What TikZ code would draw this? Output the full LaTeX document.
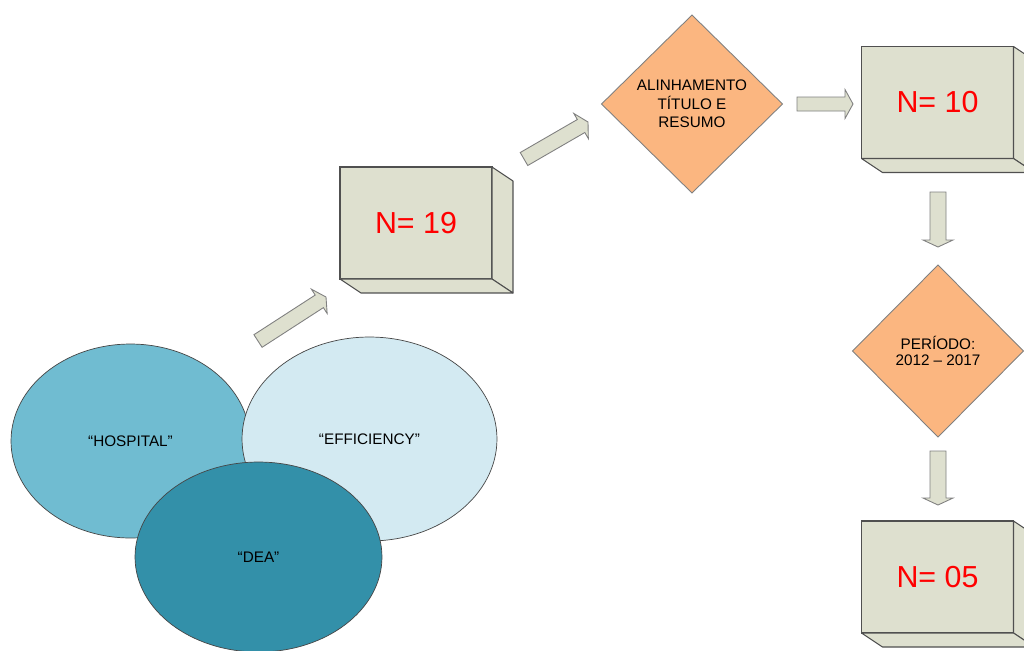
\documentclass[tikz,border=0pt]{standalone}
\usepackage{fontspec}
\setmainfont{Liberation Sans}
\usetikzlibrary{shapes.geometric,calc}
\definecolor{boxfill}{RGB}{222,224,207}
\definecolor{boxline}{RGB}{80,80,80}
\definecolor{diafill}{RGB}{251,182,128}
\definecolor{hospc}{RGB}{112,188,209}
\definecolor{effic}{RGB}{211,234,242}
\definecolor{deac}{RGB}{51,144,169}
\definecolor{ellline}{RGB}{70,70,70}
\newcommand\blockarrow[6]{%
  \coordinate (#1q) at ($(#3)!#6!(#2)$);
  \draw[barrow] ($(#2)!#4!90:(#3)$) -- ($(#1q)!#4!90:(#3)$) -- ($(#1q)!#5!90:(#3)$) -- (#3)
    -- ($(#1q)!#5!-90:(#3)$) -- ($(#1q)!#4!-90:(#3)$) -- ($(#2)!#4!-90:(#3)$) -- cycle;}
\begin{document}
\begin{tikzpicture}[x=0.02cm,y=-0.02cm,
  cube/.style={draw=boxline, fill=boxfill, line width=0.6pt, minimum width=3.04cm, minimum height=2.24cm,
    inner sep=0pt, outer sep=0pt, text=red, font=\fontsize{17.3}{20}\selectfont},
  face/.style={draw=boxline, fill=boxfill, line width=0.6pt, line join=round},
  dia/.style={diamond, draw=gray, fill=diafill, line width=0.5pt, inner sep=0pt, outer sep=0pt, align=center,
    font=\fontsize{8.7}{10.4}\selectfont},
  ell/.style={ellipse, draw=ellline, line width=0.4pt, inner sep=0pt, font=\fontsize{8.7}{10.4}\selectfont},
  barrow/.style={draw=gray, fill=boxfill, line width=0.5pt, line join=miter}
]
\useasboundingbox (0,0) rectangle (1024,650);
\clip (0,0) rectangle (1024,650);
\fill[white] (0,0) rectangle (1024,650);

% ellipses
\node[ell, fill=hospc, minimum width=4.78cm, minimum height=3.88cm] (hosp) at (130.5,441) {“HOSPITAL”};
\node[ell, fill=effic, minimum width=5.10cm, minimum height=4.08cm] (effi) at (369.5,439) {“EFFICIENCY”};
\node[ell, fill=deac, minimum width=4.94cm, minimum height=3.80cm] (dea) at (258.5,557) {“DEA”};

% cubes
\node[cube] (n19) at (416,223) {N= 19};
\draw[face] (n19.north east) -- ++(21,14) -- ++(0,112) -- (n19.south east) -- cycle;
\draw[face] (n19.south west) -- ++(21,14) -- ++(152,0) -- (n19.south east) -- cycle;

\node[cube] (n10) at (937.5,102.5) {N= 10};
\draw[face] (n10.north east) -- ++(21,14) -- ++(0,112) -- (n10.south east) -- cycle;
\draw[face] (n10.south west) -- ++(21,14) -- ++(152,0) -- (n10.south east) -- cycle;

\node[cube] (n05) at (937.5,577) {N= 05};
\draw[face] (n05.north east) -- ++(21,14) -- ++(0,112) -- (n05.south east) -- cycle;
\draw[face] (n05.south west) -- ++(21,14) -- ++(152,0) -- (n05.south east) -- cycle;

% diamonds
\node[dia, minimum width=3.62cm, minimum height=3.56cm] (alin) at (692,104) {ALINHAMENTO\\TÍTULO E\\RESUMO};
\node[dia, minimum width=3.42cm, minimum height=3.44cm, font=\fontsize{8.7}{9.1}\selectfont] (per) at (938,351) {PERÍODO:\\2012 – 2017};

% block arrows
\coordinate (a1t) at (258,341); \coordinate (a1h) at (326,297);
\blockarrow{a1}{a1t}{a1h}{0.15cm}{0.29cm}{0.16cm}
\coordinate (a2t) at (524,159); \coordinate (a2h) at (588,122);
\blockarrow{a2}{a2t}{a2h}{0.15cm}{0.29cm}{0.16cm}
\coordinate (a3t) at (797,104); \coordinate (a3h) at (853,104);
\blockarrow{a3}{a3t}{a3h}{0.14cm}{0.29cm}{0.16cm}
\coordinate (a4t) at (938,192); \coordinate (a4h) at (938,247);
\blockarrow{a4}{a4t}{a4h}{0.16cm}{0.30cm}{0.14cm}
\coordinate (a5t) at (938,451); \coordinate (a5h) at (938,505);
\blockarrow{a5}{a5t}{a5h}{0.16cm}{0.30cm}{0.14cm}
\end{tikzpicture}
\end{document}
